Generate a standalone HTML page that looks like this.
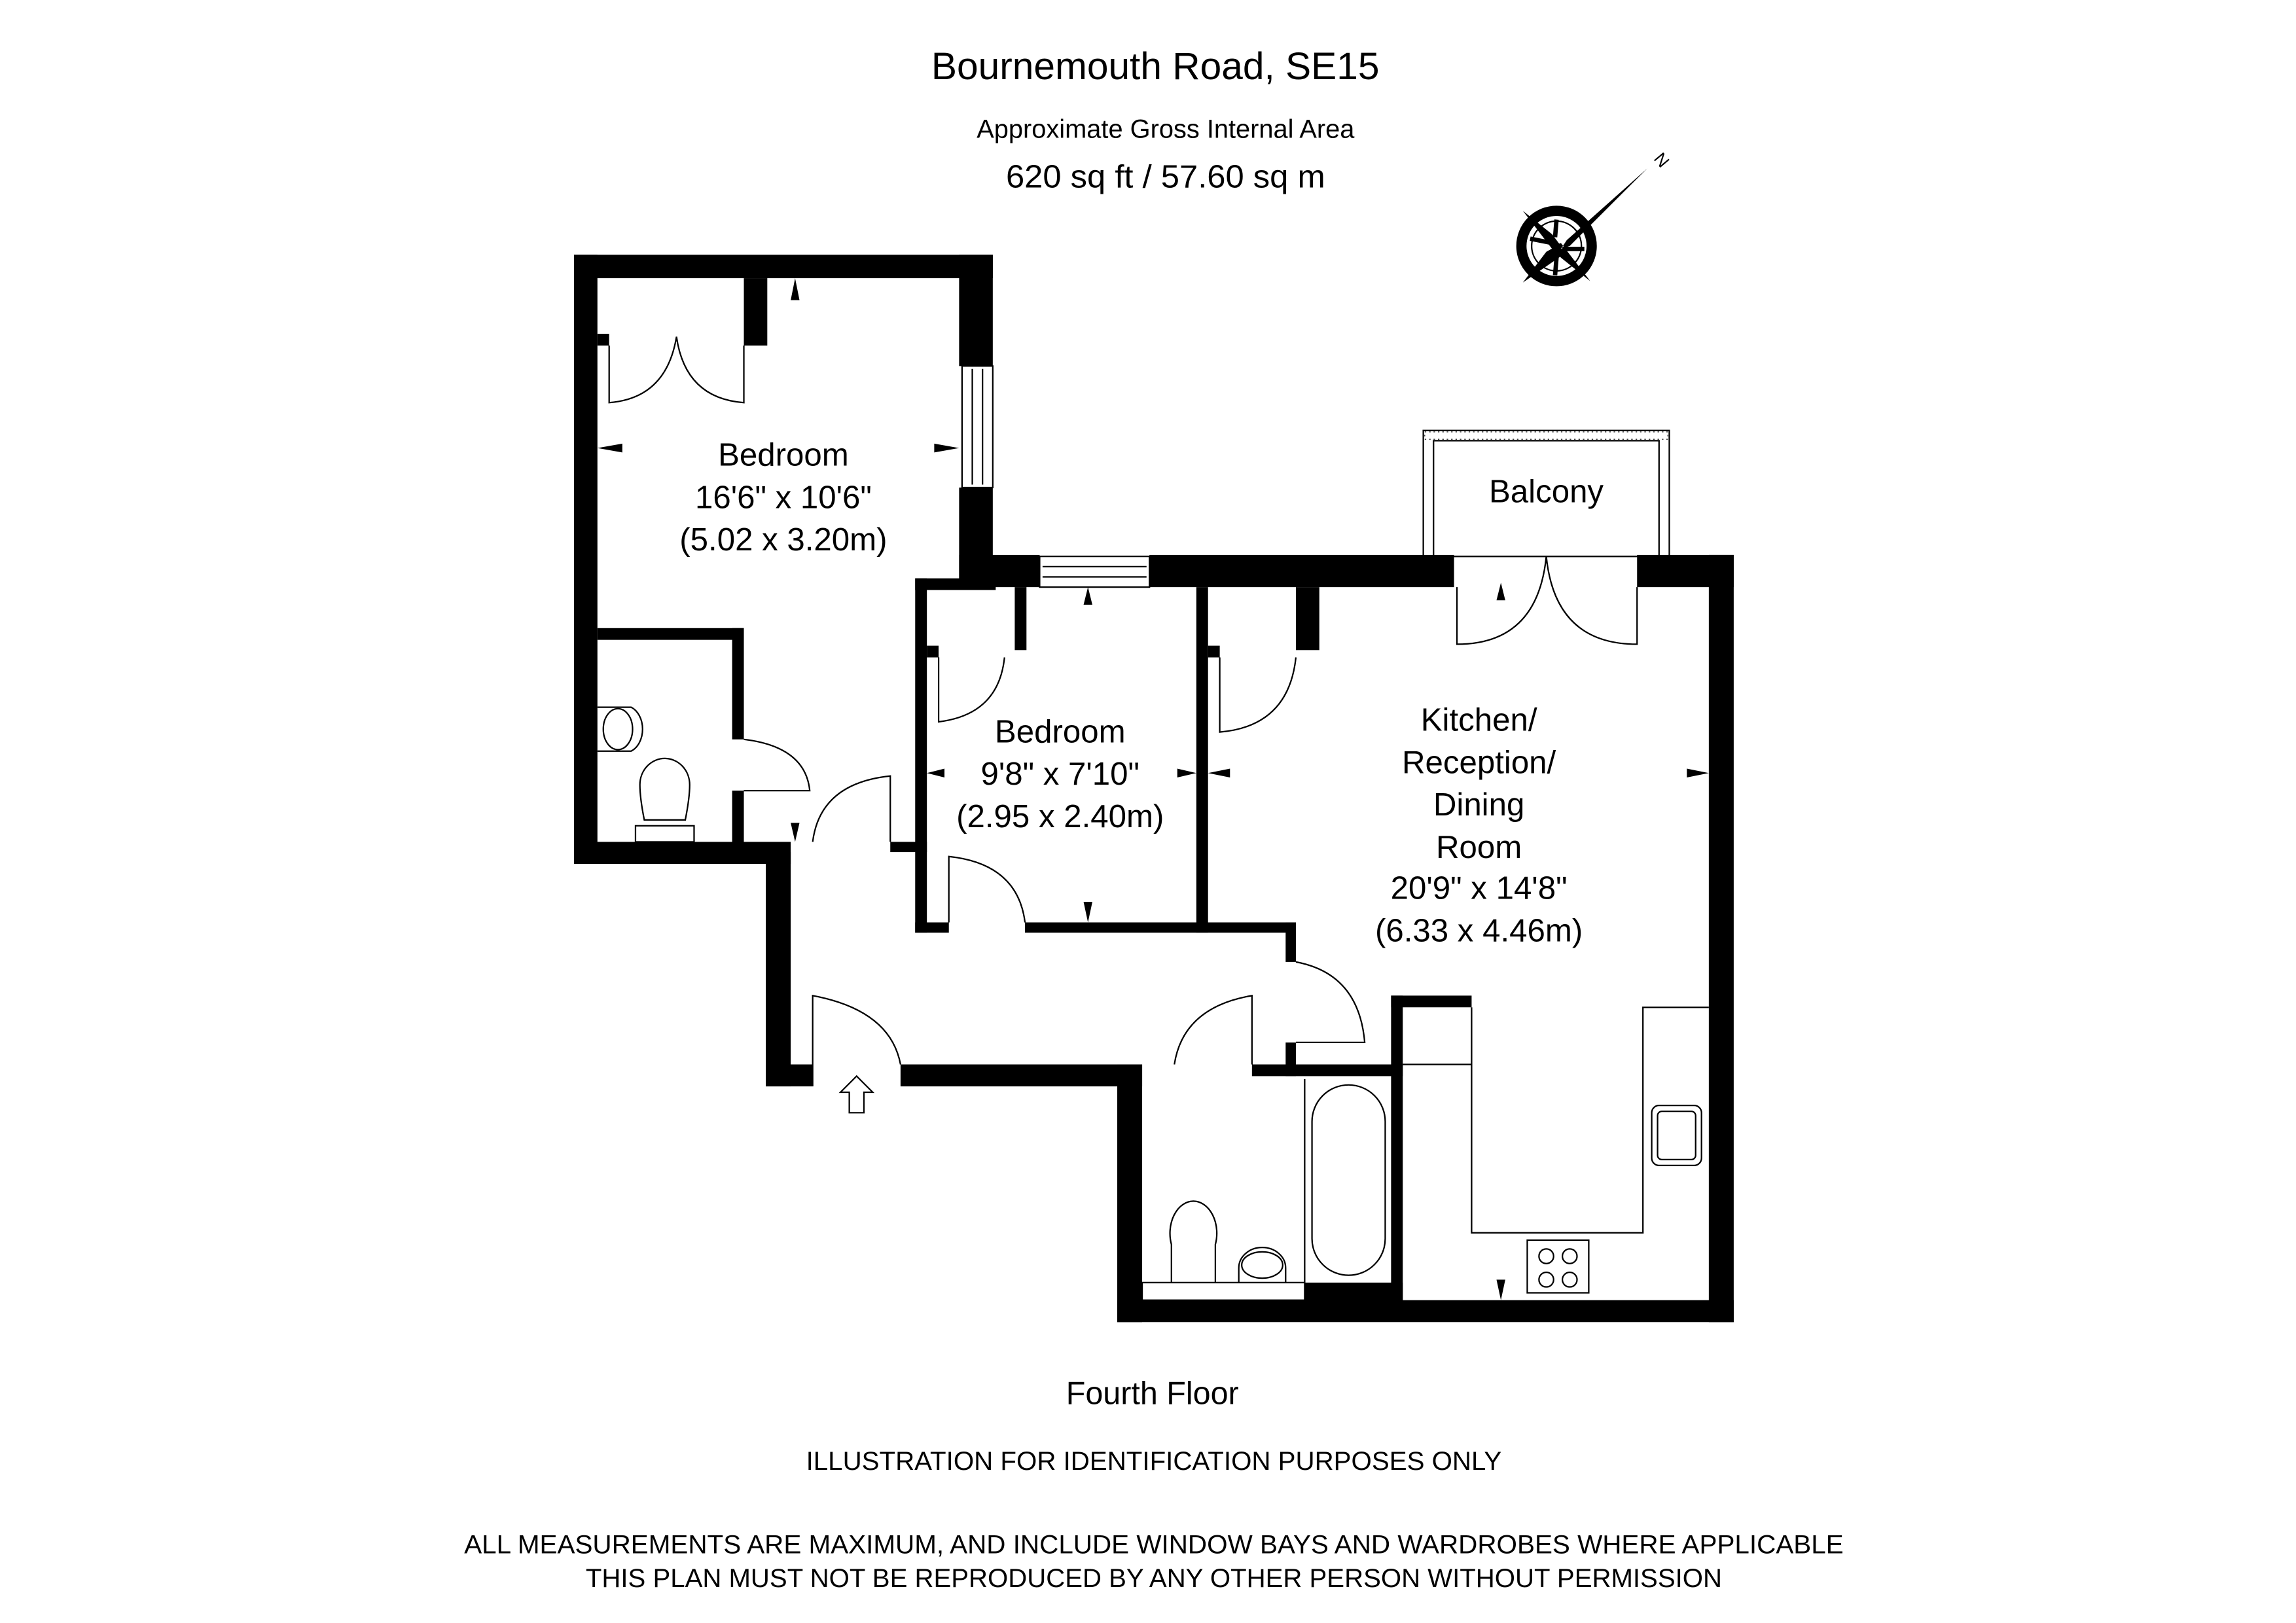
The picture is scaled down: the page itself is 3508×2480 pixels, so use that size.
<!DOCTYPE html>
<html><head><meta charset="utf-8"><style>
html,body{margin:0;padding:0;background:#fff}
svg{display:block}
text{font-family:"Liberation Sans",Arial,sans-serif;fill:#000}
</style></head><body>
<svg width="3508" height="2480" viewBox="0 0 1568 1108.5" preserveAspectRatio="none" xmlns="http://www.w3.org/2000/svg">
<rect width="1570" height="1110" fill="#fff"/>
<g text-anchor="middle">
<text x="789" y="54" font-size="26" textLength="306" lengthAdjust="spacingAndGlyphs">Bournemouth Road, SE15</text>
<text x="796" y="94" font-size="18" textLength="258" lengthAdjust="spacingAndGlyphs">Approximate Gross Internal Area</text>
<text x="796" y="128" font-size="22" textLength="218" lengthAdjust="spacingAndGlyphs">620 sq ft  /  57.60 sq m</text>
<text x="787" y="959" font-size="22" textLength="118" lengthAdjust="spacingAndGlyphs">Fourth Floor</text>
<text x="788" y="1004" font-size="18" textLength="475" lengthAdjust="spacingAndGlyphs">ILLUSTRATION FOR IDENTIFICATION PURPOSES ONLY</text>
<text x="788" y="1061" font-size="18" textLength="942" lengthAdjust="spacingAndGlyphs">ALL MEASUREMENTS ARE MAXIMUM, AND INCLUDE WINDOW BAYS AND WARDROBES WHERE APPLICABLE</text>
<text x="788" y="1084" font-size="18" textLength="776" lengthAdjust="spacingAndGlyphs">THIS PLAN MUST NOT BE REPRODUCED BY ANY OTHER PERSON WITHOUT PERMISSION</text>
<text x="535" y="318" font-size="22">Bedroom</text>
<text x="535" y="347" font-size="22">16'6" x 10'6"</text>
<text x="535" y="376" font-size="22">(5.02 x 3.20m)</text>
<text x="724" y="507" font-size="22">Bedroom</text>
<text x="724" y="536" font-size="22">9'8" x 7'10"</text>
<text x="724" y="565" font-size="22">(2.95 x 2.40m)</text>
<text x="1010" y="499" font-size="22">Kitchen/</text>
<text x="1010" y="528" font-size="22">Reception/</text>
<text x="1010" y="557" font-size="22">Dining</text>
<text x="1010" y="586" font-size="22">Room</text>
<text x="1010" y="614" font-size="22">20'9" x 14'8"</text>
<text x="1010" y="643" font-size="22">(6.33 x 4.46m)</text>
<text x="1056" y="343" font-size="22">Balcony</text>
</g>
<!-- compass -->
<g>
<circle cx="1063" cy="168" r="24" fill="none" stroke="#000" stroke-width="7"/>
<circle cx="1063" cy="168" r="17" fill="none" stroke="#000" stroke-width="1"/>
<path d="M1040 144 L1060 160 L1066 168 L1060 170 Z M1086 192 L1066 176 L1060 168 L1066 166 Z M1040 193 L1056 172 L1063 168 L1066 175 Z M1125 115 L1070 164 L1066 170 L1072 168 Z" fill="#000"/>
<path d="M1045 163 L1060 166 M1082 170 L1067 170 M1063 150 L1062 162 M1062 188 L1063 176" stroke="#000" stroke-width="3"/>
<text x="1134" y="113" font-size="12" transform="rotate(50 1134 110)" text-anchor="middle">N</text>
</g>
<!-- walls -->
<g fill="#000">
<rect x="392" y="174" width="286" height="16"/>
<rect x="392" y="174" width="16" height="416"/>
<rect x="655" y="174" width="23" height="76"/>
<rect x="655" y="333" width="23" height="68"/>
<rect x="655" y="379" width="55" height="22"/>
<rect x="785" y="379" width="208" height="22"/>
<rect x="1118" y="379" width="66" height="22"/>
<rect x="1167" y="379" width="17" height="524"/>
<rect x="763" y="888" width="421" height="15"/>
<rect x="763" y="727" width="17" height="176"/>
<rect x="392" y="575" width="148" height="15"/>
<rect x="608" y="575" width="25" height="7"/>
<rect x="523" y="582" width="17" height="160"/>
<rect x="523" y="727" width="32" height="15"/>
<rect x="615" y="727" width="165" height="15"/>
<rect x="508" y="190" width="16" height="46"/>
<rect x="408" y="228" width="8" height="8"/>
<rect x="408" y="429" width="100" height="8"/>
<rect x="500" y="429" width="8" height="76"/>
<rect x="500" y="540" width="8" height="37"/>
<rect x="625" y="395" width="8" height="242"/>
<rect x="625" y="395" width="55" height="8"/>
<rect x="693" y="401" width="8" height="43"/>
<rect x="633" y="441" width="8" height="8"/>
<rect x="817" y="401" width="8" height="236"/>
<rect x="885" y="401" width="16" height="43"/>
<rect x="825" y="441" width="8" height="8"/>
<rect x="625" y="630" width="23" height="7"/>
<rect x="700" y="630" width="185" height="7"/>
<rect x="878" y="630" width="7" height="27"/>
<rect x="878" y="712" width="7" height="23"/>
<rect x="855" y="727" width="103" height="8"/>
<rect x="950" y="680" width="8" height="215"/>
<rect x="950" y="680" width="55" height="8"/>
<rect x="891" y="876" width="67" height="15"/>
</g>
<!-- windows -->
<g fill="#fff" stroke="#000" stroke-width="1">
<rect x="657" y="250" width="21" height="83"/>
<line x1="664" y1="252" x2="664" y2="331"/><line x1="671" y1="252" x2="671" y2="331"/>
<rect x="710" y="380" width="75" height="21"/>
<line x1="712" y1="387" x2="783" y2="387"/><line x1="712" y1="394" x2="783" y2="394"/>
</g>
<!-- balcony -->
<g fill="none" stroke="#000" stroke-width="1">
<rect x="972" y="294" width="168" height="86"/>
<rect x="979" y="301" width="154" height="79"/>
</g>
<rect x="973" y="295" width="166" height="5" fill="none" stroke="#000" stroke-width="0.5" stroke-dasharray="1,2"/>
<!-- doors & fixtures -->
<g fill="none" stroke="#000" stroke-width="1">
<path d="M416 236 V275 H416 Q455 272 462 230 Q468 272 508 275 V236"/>
<path d="M641 449 V493 Q682 488 686 449"/>
<path d="M833 449 V500 Q880 496 885 449"/>
<path d="M508 505 Q550 510 553 540 H508"/>
<path d="M608 575 V530 Q560 535 555 575"/>
<path d="M648 630 V585 Q695 590 700 630"/>
<path d="M885 657 Q928 665 932 712 H885"/>
<path d="M855 727 V680 Q808 688 802 727"/>
<path d="M555 742 V680 Q608 690 615 727"/>
<path d="M995 401 V440 Q1050 440 1056 380 Q1062 440 1118 440 V401"/>
<path d="M408 483 H431 A12 16 0 0 1 431 513 H408"/>
<ellipse cx="422" cy="476" rx="10" ry="14" transform="translate(0 22)"/>
<path d="M440 560 Q437 545 437 536 A17 18 0 1 1 471 536 Q471 545 468 560 Z"/>
<rect x="434" y="564" width="40" height="11"/>
<rect x="780" y="876" width="111" height="12"/>
<line x1="891" y1="737" x2="891" y2="876"/>
<rect x="896" y="741" width="50" height="130" rx="25"/>
<path d="M800 876 V850 A16 22 0 1 1 830 850 V876"/>
<path d="M846 876 V866 A16 14 0 0 1 878 866 V876"/>
<ellipse cx="862" cy="864" rx="14" ry="9"/>
<path d="M958 727 H1005 M1005 688 V842 H1122 V688 H1167"/>
<rect x="1128" y="755" width="34" height="41" rx="5"/>
<rect x="1132" y="759" width="26" height="33" rx="3"/>
<rect x="1043" y="847" width="42" height="36"/>
<circle cx="1056" cy="858" r="5"/><circle cx="1072" cy="858" r="5"/>
<circle cx="1056" cy="874" r="5"/><circle cx="1072" cy="874" r="5"/>
<path d="M580 760 V746 H574 L585 735 L596 746 H590 V760 Z"/>
</g>
<!-- dimension arrows -->
<g fill="#000">
<path d="M543 190 L540 205 H546 Z"/>
<path d="M408 306 L425 303 V309 Z"/>
<path d="M655 306 L638 303 V309 Z"/>
<path d="M543 575 L540 562 H546 Z"/>
<path d="M743 401 L740 413 H746 Z"/>
<path d="M743 630 L740 616 H746 Z"/>
<path d="M633 528 L645 525 V531 Z"/>
<path d="M817 528 L804 525 V531 Z"/>
<path d="M825 528 L840 525 V531 Z"/>
<path d="M1167 528 L1152 525 V531 Z"/>
<path d="M1025 398 L1022 410 H1028 Z"/>
<path d="M1025 888 L1022 874 H1028 Z"/>
</g>
</svg>
</body></html>
